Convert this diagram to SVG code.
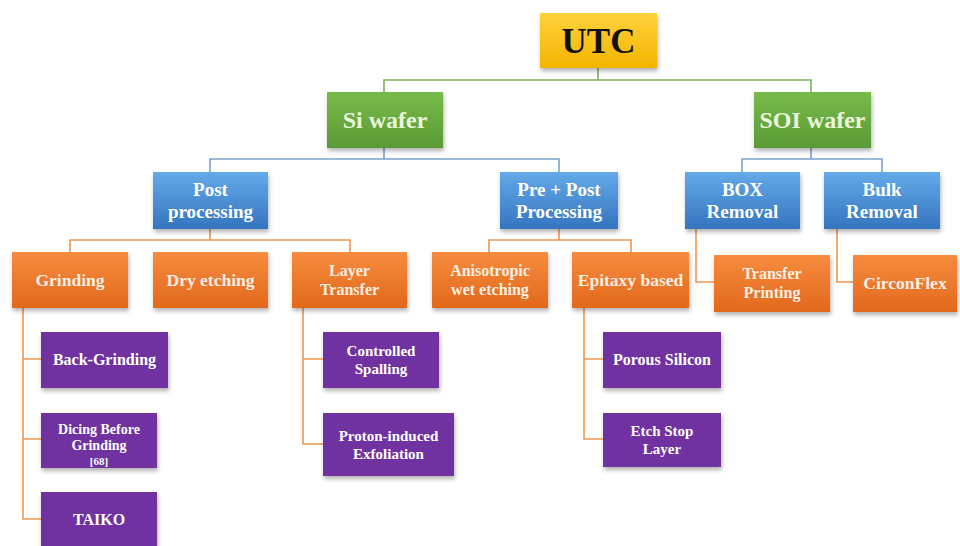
<svg xmlns="http://www.w3.org/2000/svg" width="960" height="546" viewBox="0 0 960 546">
<defs>
<linearGradient id="gY" x1="0" y1="0" x2="0" y2="1"><stop offset="0" stop-color="#FFD23C"/><stop offset="1" stop-color="#F3B400"/></linearGradient>
<linearGradient id="gG" x1="0" y1="0" x2="0" y2="1"><stop offset="0" stop-color="#78BA4C"/><stop offset="1" stop-color="#5A9A34"/></linearGradient>
<linearGradient id="gB" x1="0" y1="0" x2="0" y2="1"><stop offset="0" stop-color="#64AAE8"/><stop offset="1" stop-color="#3474C0"/></linearGradient>
<linearGradient id="gO" x1="0" y1="0" x2="0" y2="1"><stop offset="0" stop-color="#F68C3E"/><stop offset="1" stop-color="#E2681C"/></linearGradient>
<filter id="sh" x="-10%" y="-10%" width="125%" height="135%"><feDropShadow dx="1" dy="3" stdDeviation="2" flood-color="#000" flood-opacity="0.3"/></filter>
</defs>
<style>
.y{fill:url(#gY);filter:url(#sh)}
.g{fill:url(#gG);filter:url(#sh)}
.b{fill:url(#gB);filter:url(#sh)}
.o{fill:url(#gO);filter:url(#sh)}
.p{fill:#7030A0;filter:url(#sh)}
text{font-family:"Liberation Serif","Times New Roman",serif;font-weight:bold;text-anchor:middle}
.t0{font-size:35px;fill:#111}
.t1{font-size:24px;fill:#EAF6DC}
.t2{font-size:19px;fill:#fff}
.t3{font-size:17.5px;fill:#FCEFE4}
.t3s{font-size:16px;fill:#FCEFE4}
.t4{font-size:16px;fill:#fff}
.t4s{font-size:15px;fill:#fff}
.t4d{font-size:14px;fill:#fff}
.t5{font-size:11px;fill:#fff}
.cg{stroke:#7DB25A;stroke-width:1.6;fill:none}
.cb{stroke:#7BA2CE;stroke-width:1.6;fill:none}
.co{stroke:#EE9650;stroke-width:1.6;fill:none}
</style>
<rect width="960" height="546" fill="#fff"/>
<g id="connectors">
<path class="cg" d="M598 68V80M384 92V80H811V92"/>
<path class="cb" d="M384 148V159M210 172V159H559V172M811 148V159M742 172V159H882V172"/>
<path class="co" d="M210 229V240M70 252V240H350V252M559 229V240M489 252V240H631V252"/>
<path class="co" d="M696 229V282H714M837 229V282H853"/>
<path class="co" d="M23 308V519H41M23 359H41M23 439H41"/>
<path class="co" d="M303 308V444H323M303 359H323"/>
<path class="co" d="M584 308V439H603M584 359H603"/>
</g>
<g id="utc"><rect class="y" x="540" y="13" width="117" height="55"/><text class="t0" x="598.5" y="53">UTC</text></g>
<g id="si-wafer"><rect class="g" x="327" y="92" width="116" height="56"/><text class="t1" x="385" y="128">Si wafer</text></g>
<g id="soi-wafer"><rect class="g" x="754" y="92" width="117" height="56"/><text class="t1" x="812.5" y="128">SOI wafer</text></g>
<g id="post-processing"><rect class="b" x="153" y="172" width="115" height="57"/><text class="t2" x="210.5" y="196">Post</text><text class="t2" x="210.5" y="218">processing</text></g>
<g id="pre-post-processing"><rect class="b" x="500" y="172" width="118" height="57"/><text class="t2" x="559" y="196">Pre + Post</text><text class="t2" x="559" y="218">Processing</text></g>
<g id="box-removal"><rect class="b" x="685" y="172" width="115" height="57"/><text class="t2" x="742.5" y="196">BOX</text><text class="t2" x="742.5" y="218">Removal</text></g>
<g id="bulk-removal"><rect class="b" x="824" y="172" width="116" height="57"/><text class="t2" x="882" y="196">Bulk</text><text class="t2" x="882" y="218">Removal</text></g>
<g id="grinding"><rect class="o" x="12" y="252" width="116" height="56"/><text class="t3" x="70" y="286">Grinding</text></g>
<g id="dry-etching"><rect class="o" x="153" y="252" width="115" height="56"/><text class="t3" x="210.5" y="286">Dry etching</text></g>
<g id="layer-transfer"><rect class="o" x="292" y="252" width="115" height="56"/><text class="t3s" x="349.5" y="276">Layer</text><text class="t3s" x="349.5" y="295">Transfer</text></g>
<g id="anisotropic"><rect class="o" x="432" y="252" width="116" height="56"/><text class="t3s" x="490" y="276">Anisotropic</text><text class="t3s" x="490" y="295">wet etching</text></g>
<g id="epitaxy"><rect class="o" x="572" y="252" width="117" height="56"/><text class="t3" x="630.5" y="286">Epitaxy based</text></g>
<g id="transfer-printing"><rect class="o" x="714" y="255" width="116" height="57"/><text class="t3s" x="772" y="279">Transfer</text><text class="t3s" x="772" y="298">Printing</text></g>
<g id="circonflex"><rect class="o" x="853" y="255" width="104" height="57"/><text class="t3" x="905" y="289">CirconFlex</text></g>
<g id="back-grinding"><rect class="p" x="41" y="332" width="127" height="56"/><text class="t4" x="104.5" y="365">Back-Grinding</text></g>
<g id="dicing"><rect class="p" x="41" y="413" width="116" height="55"/><text class="t4d" x="99" y="434">Dicing Before</text><text class="t4d" x="99" y="450">Grinding</text><text class="t5" x="99" y="465">[68]</text></g>
<g id="taiko"><rect class="p" x="41" y="492" width="116" height="60"/><text class="t4" x="99" y="525">TAIKO</text></g>
<g id="controlled-spalling"><rect class="p" x="323" y="332" width="116" height="56"/><text class="t4s" x="381" y="356">Controlled</text><text class="t4s" x="381" y="374">Spalling</text></g>
<g id="proton"><rect class="p" x="323" y="413" width="131" height="63"/><text class="t4s" x="388.5" y="441">Proton-induced</text><text class="t4s" x="388.5" y="459">Exfoliation</text></g>
<g id="porous-silicon"><rect class="p" x="603" y="332" width="118" height="56"/><text class="t4" x="662" y="365">Porous Silicon</text></g>
<g id="etch-stop"><rect class="p" x="603" y="413" width="118" height="54"/><text class="t4s" x="662" y="436">Etch Stop</text><text class="t4s" x="662" y="454">Layer</text></g>
</svg>
